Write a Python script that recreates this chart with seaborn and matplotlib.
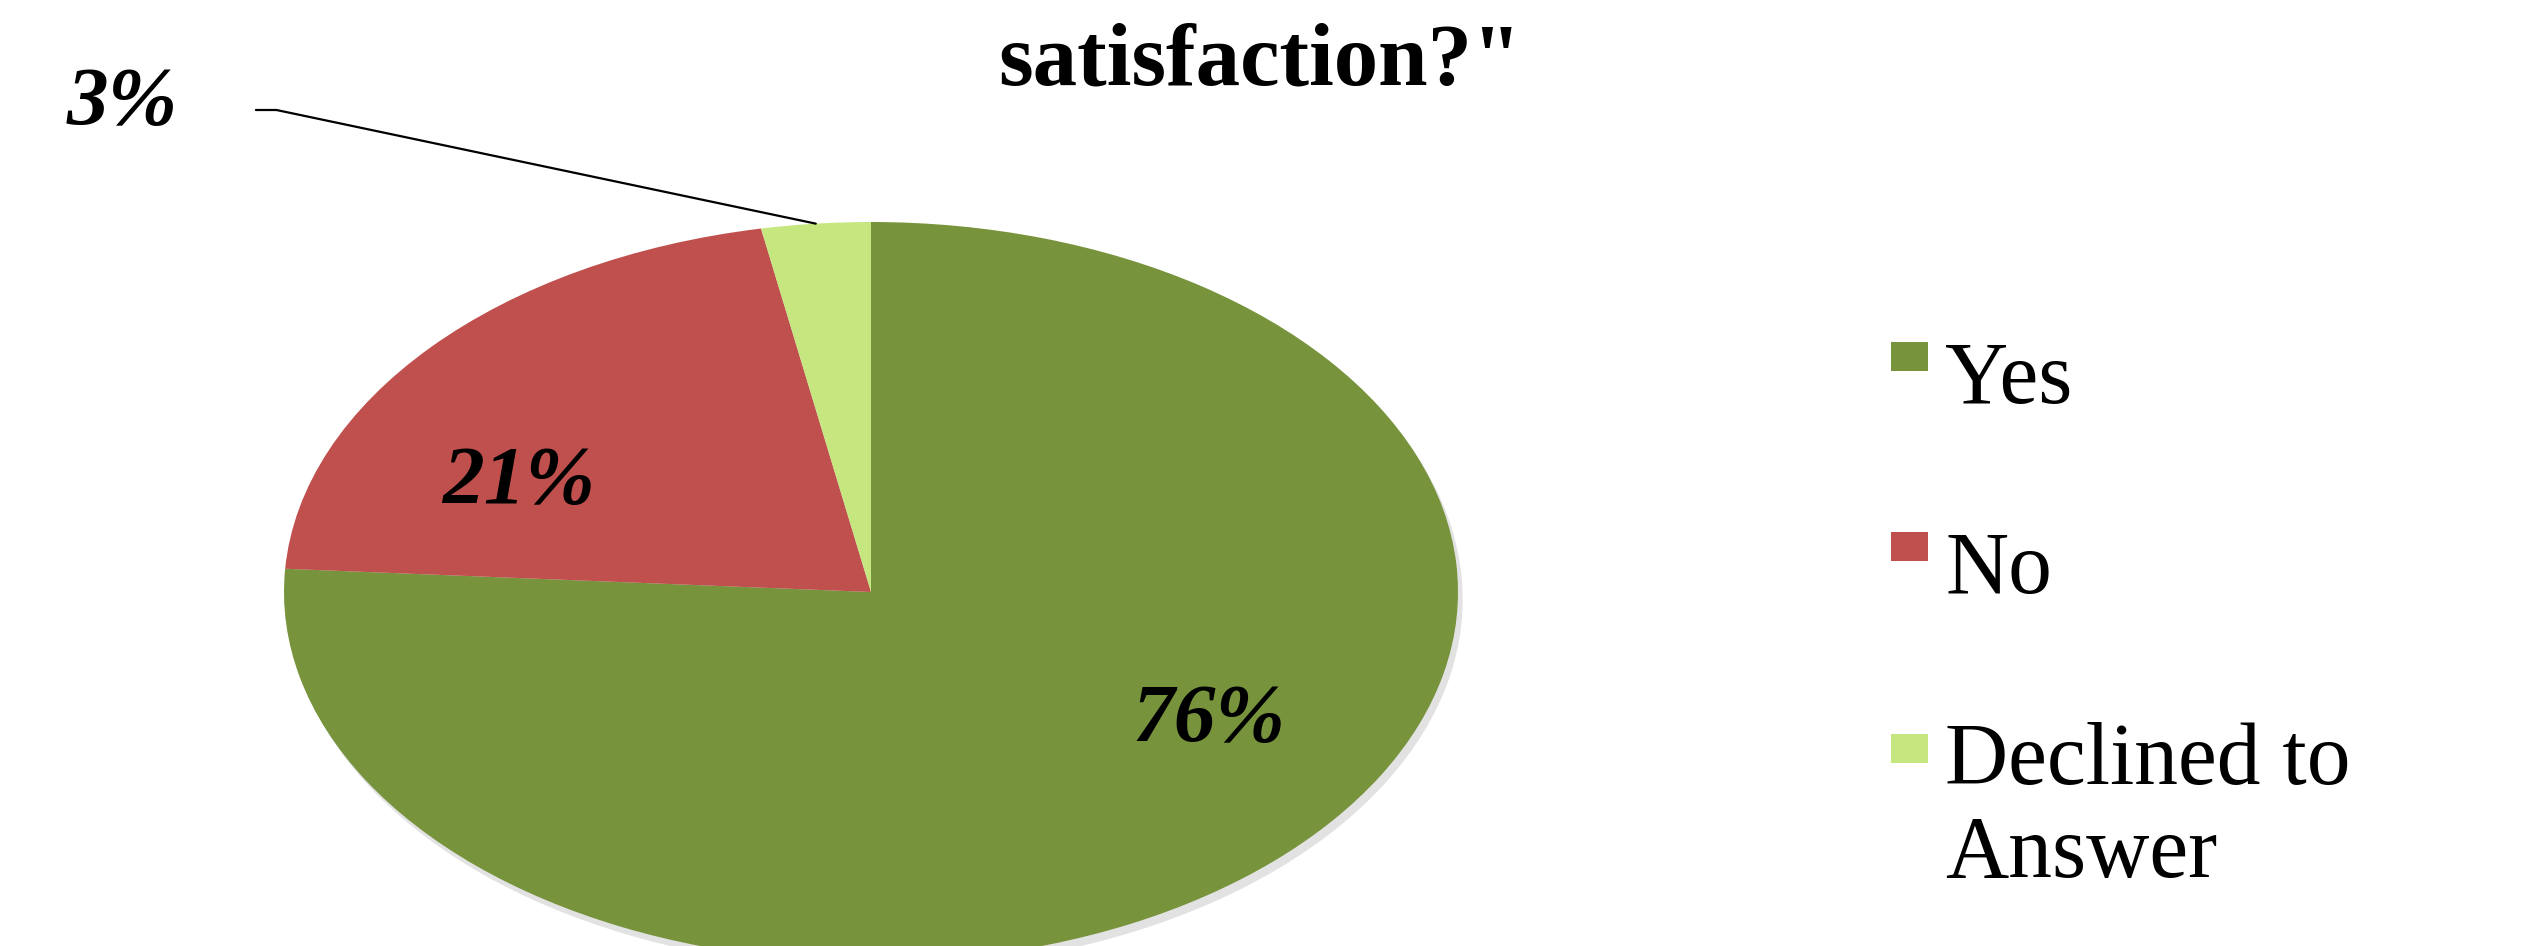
import numpy as np
import matplotlib
matplotlib.use("Agg")
import matplotlib.pyplot as plt
from matplotlib.patches import Rectangle
from matplotlib.legend_handler import HandlerPatch
import seaborn as sns

# ---- data ----
categories = ["Yes", "No", "Declined to\nAnswer"]
values = [76, 21, 3]
pct_labels = ["76%", "21%", "3%"]
title_text = 'satisfaction?"'

# ---- style ----
colors = ["#77933C", "#C0504D", "#C6E680"]
sns.set_theme(style="white")
plt.rcParams["font.family"] = ["Liberation Serif", "DejaVu Serif"]
plt.rcParams["text.color"] = "black"

W, H = 2545, 946
fig = plt.figure(figsize=(W / 100, H / 100), dpi=100)
fig.patch.set_facecolor("white")

# pie axes (elliptical pie, bottom cut by figure edge)
cx, cy, rx, ry = 871, 592, 587, 370
ax = fig.add_axes([(cx - rx) / W, (H - (cy + ry)) / H, 2 * rx / W, 2 * ry / H])

# soft shadow
ax.pie(values, colors=["#a0a0a0"] * len(values), startangle=90, counterclock=False,
       center=(0.008, -0.02), wedgeprops=dict(linewidth=0, alpha=0.3))
wedges, _, autotexts = ax.pie(values, colors=colors, startangle=90, counterclock=False,
                              autopct="%1.0f%%", pctdistance=0.67,
                              wedgeprops=dict(linewidth=0),
                              textprops=dict(fontsize=60, fontweight="bold",
                                             fontstyle="italic", color="black"))
ax.set_aspect("auto")
ax.set_xlim(-1, 1)
ax.set_ylim(-1, 1)
ax.axis("off")

# label placement (matching the original layout)
label_xy = [(0.576, -0.351), (-0.600, 0.292)]
for t, txt, xy in zip(autotexts, pct_labels, label_xy + [None]):
    t.set_text(txt)
    if xy is not None:
        t.set_position(xy)
        t.set_ha("center")
        t.set_va("center")
    else:
        t.set_visible(False)

# 3% leader label
th = np.deg2rad(90 - 360 * (values[0] + values[1] + values[2] / 2) / sum(values))
ax.annotate(pct_labels[2], xy=(np.cos(th), np.sin(th)), xycoords="data",
            xytext=(122 / W, 1 - 104 / H), textcoords="figure fraction",
            ha="center", va="center", fontsize=60, fontweight="bold", fontstyle="italic",
            color="black",
            arrowprops=dict(arrowstyle="-", color="black", lw=1.6,
                            connectionstyle="angle,angleA=0,angleB=-11.9,rad=0",
                            relpos=(1.0, 0.42), shrinkA=54, shrinkB=0))

# title (first line lies above the visible area)
fig.text(1260 / W, 1 - 84 / H, title_text, ha="center", va="baseline",
         fontsize=64, fontweight="bold", color="black")


# legend with square swatches sitting at the top of each label
class TopSquare(HandlerPatch):
    def __init__(self, shift, **kw):
        super().__init__(**kw)
        self.shift = shift

    def create_artists(self, legend, orig_handle, xdescent, ydescent, width,
                       height, fontsize, trans):
        sq_w, sq_h = 0.42 * fontsize, 0.33 * fontsize
        y0 = -ydescent + (height - sq_h) / 2 + self.shift * fontsize
        p = Rectangle((-xdescent, y0), sq_w, sq_h,
                      facecolor=orig_handle.get_facecolor(), edgecolor="none",
                      transform=trans)
        return [p]


handler_map = {w: TopSquare(0.68 if "\n" in c else 0.17)
               for w, c in zip(wedges, categories)}
fig.legend(wedges, categories, loc="upper left", handler_map=handler_map,
           bbox_to_anchor=(1812 / W, 1 - 262 / H), frameon=False,
           fontsize=63, handlelength=0.42, handleheight=0.3, handletextpad=0.2,
           labelspacing=1.25, labelcolor="black")

fig.savefig("out.png", dpi=100, facecolor="white")
